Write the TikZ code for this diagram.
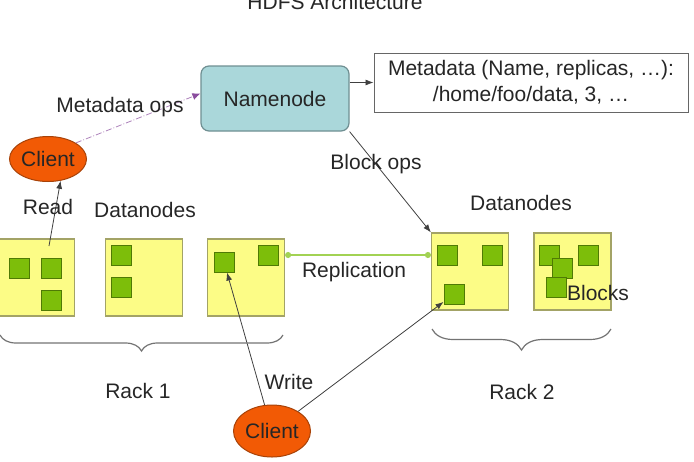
\documentclass[tikz,border=0pt]{standalone}
\usepackage{fontspec}
\setmainfont{Liberation Sans}
\usetikzlibrary{arrows.meta, decorations.pathreplacing, shapes.geometric}
\definecolor{dnyellow}{HTML}{FCFC86}
\definecolor{dnedge}{HTML}{A3A366}
\definecolor{blkgreen}{HTML}{7DBE0A}
\definecolor{blkedge}{HTML}{4F7A05}
\definecolor{nnteal}{HTML}{AAD7DA}
\definecolor{nnedge}{HTML}{6F8F92}
\definecolor{clorange}{HTML}{F25A05}
\definecolor{cledge}{HTML}{A84208}
\definecolor{replgreen}{HTML}{A2D253}
\definecolor{metapurple}{HTML}{8A4C9E}

\begin{document}
\begin{tikzpicture}[x=0.5pt,y=-0.5pt,font=\fontsize{10.5}{12.6}\selectfont,text=black!85,
    datanode/.style={draw=dnedge,fill=dnyellow,line width=0.6pt,minimum width=38.5pt,minimum height=38.5pt,inner sep=0pt},
    blk/.style={draw=blkedge,fill=blkgreen,line width=0.5pt,minimum size=10pt,inner sep=0pt},
    client/.style={ellipse,draw=cledge,fill=clorange,line width=0.5pt,minimum width=38.5pt,inner sep=0pt},
    op/.style={-{Latex[length=4pt,width=3pt]},draw=black!75,line width=0.4pt},
    metaop/.style={densely dashdotted,draw=metapurple!70,line width=0.4pt,-{Latex[length=4pt,width=3.5pt,metapurple]}},
    rack/.style={decorate,decoration={brace,amplitude=#1},draw=black!55,line width=0.6pt}]
    \useasboundingbox (0,0) rectangle (694,461);
    \node[anchor=base] (title) at (335,9) {HDFS Architecture};
    % namenode and its metadata
    \node[draw=nnedge,fill=nnteal,line width=0.6pt,rounded corners=4pt,minimum width=74pt,minimum height=32.5pt] (nn) at (275,98.5) {Namenode};
    \node[draw=black!60,fill=white,line width=0.5pt,minimum width=157pt,minimum height=29.5pt,align=center,
      font=\fontsize{10.5}{13}\selectfont] (meta) at (531,82.5) {Metadata (Name, replicas, …):\\/home/foo/data, 3, …};
    \draw[op] (nn.east |- meta.west) -- (meta.west);
    % clients
    \node[client,minimum height=22.5pt] (cl1) at (48,159) {Client};
    \node[client,minimum height=26pt] (cl2) at (272,431) {Client};
    % datanodes
    \node[datanode] (dn11) at (36,277.5) {};
    \node[datanode] (dn12) at (144,277.5) {};
    \node[datanode] (dn13) at (246,277.5) {};
    \node[datanode] (dn21) at (470,271.5) {};
    \node[datanode] (dn22) at (572.5,271.5) {};
    \foreach \x/\y/\n in {19.5/268/b11, 51.5/268/b12, 51.5/300/b13,
        121.5/255/b21, 121.5/287/b22, 224/262/b31, 268.5/255/b32,
        447.5/255/b41, 492.5/255/b42, 454/294/b43,
        549.5/255/b51, 562/268/b52, 556.5/287/b53, 588/255/b54}
      \node[blk] (\n) at (\x,\y) {};
    \node (dnlabel1) at (145,210) {Datanodes};
    \node (dnlabel2) at (521,203) {Datanodes};
    \node (blklabel) at (598,293) {Blocks};
    % connectors
    \coordinate (rd) at (49,246);
    \draw[op] (rd) -- (cl1.-60);
    \node (read) at (48,207) {Read};
    \draw[metaop] (cl1.30) -- ([yshift=2.5pt]nn.west);
    \node (mops) at (120,107) {Metadata ops};
    \draw[op] (nn.south east) -- (dn21.north west);
    \node (bops) at (376,164) {Block ops};
    \draw[replgreen,line width=0.8pt,{Circle[length=3pt]}-{Circle[length=3pt]}] (dn13.east |- b32) -- (dn21.west |- b32);
    \node (repl) at (354,272) {Replication};
    \draw[op] (cl2) -- (b31);
    \draw[op] (cl2) -- (b43);
    \node (write) at (289,382) {Write};
    % racks
    \draw[rack=8pt] (283,335) -- (0,335);
    \draw[rack=10.5pt] (611,329) -- (432,329);
    \node (rack1) at (138,391) {Rack 1};
    \node (rack2) at (522,392) {Rack 2};
\end{tikzpicture}
\end{document}
